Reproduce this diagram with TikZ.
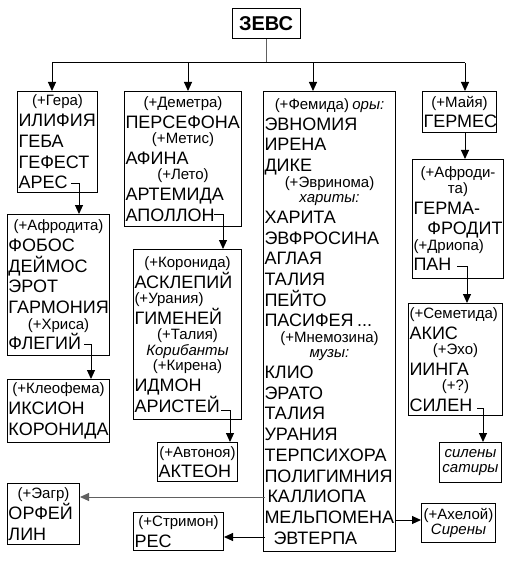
\documentclass[tikz,border=0pt]{standalone}
\usepackage{fontspec}
\setmainfont{Liberation Sans}
\usetikzlibrary{arrows.meta}
\setlength{\parindent}{0pt}
\tikzset{
  grp/.style 2 args = {draw, line width=1pt, anchor=north west, align=left,
                       text width=#1, minimum height=#2, inner xsep=1pt, inner ysep=0pt},
  ar/.style  = {-{Triangle[length=9pt,width=8pt]}, line width=1pt},
  arg/.style = {ar, gray!75!black},
  ln/.style  = {line width=1pt}
}
\newcommand{\bname}[1]{{\fontsize{18}{20.7}\selectfont\mbox{#1}\par}}
\newcommand{\bnamer}[1]{{\fontsize{18}{20.7}\selectfont\raggedleft\mbox{#1}\par}}
\newcommand{\bnote}[1]{{\fontsize{15}{15.5}\selectfont\centering\mbox{#1}\par}}
\newcommand{\bnotel}[1]{{\fontsize{15}{15.5}\selectfont\mbox{#1}\par}}

\begin{document}
\begin{tikzpicture}[x=1pt, y=-1pt]
\useasboundingbox (0,0) rectangle (511,564);
% ---- Zeus and the bus ----
\node[draw, line width=1pt, minimum width=68pt, minimum height=30pt, inner sep=0pt,
      font={\fontsize{20}{24}\selectfont\bfseries}] (zeus) at (266,24) {ЗЕВС};
\coordinate (busL) at (52,63);
\coordinate (busR) at (465,63);

% ---- first row ----
\node[grp={78pt}{101pt}] (hera) at (17,91)
  {\bnote{(+Гера)}\bname{ИЛИФИЯ}\bname{ГЕБА}\bname{ГЕФЕСТ}\bname{АРЕС}};
\node[grp={115pt}{135pt}] (demetra) at (124,91)
  {\bnote{(+Деметра)}\bname{ПЕРСЕФОНА}\bnote{(+Метис)}\bname{АФИНА}%
   \bnote{(+Лето)}\bname{АРТЕМИДА}\bname{АПОЛЛОН}};
\node[grp={130pt}{460pt}] (themis) at (263,91)
  {\bnote{(+Фемида) \textit{оры:}}\bname{ЭВНОМИЯ}\bname{ИРЕНА}\bname{ДИКЕ}%
   \bnote{(+Эвринома)}\bnote{\textit{хариты:}}\bname{ХАРИТА}\bname{ЭВФРОСИНА}%
   \bname{АГЛАЯ}\bname{ТАЛИЯ}\bname{ПЕЙТО}\bname{ПАСИФЕЯ ...}%
   \bnote{(+Мнемозина)}\bnote{\textit{музы:}}\bname{КЛИО}\bname{ЭРАТО}\bname{ТАЛИЯ}%
   \bname{УРАНИЯ}\bname{ТЕРПСИХОРА}\bname{ПОЛИГИМНИЯ}\bname{\hspace*{3pt}КАЛЛИОПА}%
   \bname{МЕЛЬПОМЕНА}\bname{\hspace*{9pt}ЭВТЕРПА}};
\node[grp={72pt}{41pt}] (maia) at (422,91)
  {\bnote{(+Майя)}\bname{ГЕРМЕС}};

% ---- descendants ----
\node[grp={89pt}{119pt}] (herma) at (412,159)
  {\bnote{(+Афроди-}\bnote{та)}\bname{ГЕРМА-}\bnamer{ФРОДИТ}\bnotel{(+Дриопа)}\bname{ПАН}};
\node[grp={92pt}{112pt}] (semetida) at (408,303)
  {\bnotel{(+Семетида)}\bname{АКИС}\bnote{(+Эхо)}\bname{ИИНГА}\bnote{(+?)}\bname{СИЛЕН}};
\node[grp={60pt}{40pt}] (sileni) at (439,442)
  {\bnote{\textit{силены}}\bnote{\textit{сатиры}}};
\node[grp={72pt}{39pt}] (acheloy) at (421,503)
  {\bnote{(+Ахелой)}\bnote{\textit{Сирены}}};
\node[grp={100pt}{141pt}] (aphro) at (7,214)
  {\bnote{(+Афродита)}\bname{ФОБОС}\bname{ДЕЙМОС}\bname{ЭРОТ}\bname{ГАРМОНИЯ}%
   \bnote{(+Хриса)}\bname{ФЛЕГИЙ}};
\node[grp={100pt}{63pt}] (kleo) at (7,379)
  {\bnote{(+Клеофема)}\bname{ИКСИОН}\bname{КОРОНИДА}};
\node[grp={106pt}{170pt}] (koronida) at (133,249)
  {\bnote{(+Коронида)}\bname{АСКЛЕПИЙ}\bnotel{(+Урания)}\bname{ГИМЕНЕЙ}%
   \bnote{(+Талия)}\bnote{\textit{Корибанты}}\bnote{(+Кирена)}\bname{ИДМОН}\bname{АРИСТЕЙ}};
\node[grp={78pt}{39pt}] (autonoe) at (157,442)
  {\bnote{(+Автоноя)}\bname{АКТЕОН}};
\node[grp={70pt}{61pt}] (eagr) at (7,483)
  {\bnote{(+Эагр)}\bname{ОРФЕЙ}\bname{ЛИН}};
\node[grp={88pt}{38pt}] (strimon) at (133,512)
  {\bnote{(+Стримон)}\bname{РЕС}};

% ---- line ends ----
\coordinate (ares) at (71,183);
\coordinate (apollon) at (214,214);
\coordinate (flegiy) at (84,344);
\coordinate (aristey) at (221,410);
\coordinate (pan) at (457,266);
\coordinate (silen) at (477,408);
\coordinate (kalliopa) at (265,497);
\coordinate (melpomena) at (395,520);
\coordinate (evterpa) at (265,537);

% ---- connectors ----
\draw[ln, gray!75!black] (zeus.south) -- (zeus.south |- busL);
\draw[ln] (busL) -- (busR);
\foreach \x/\b in {52/hera, 188/demetra, 313/themis, 465/maia}
  \draw[ar] (\x,63) -- (\b.north -| \x,0);
\draw[ar] (maia.south -| 465,0) -- (herma.north -| 465,0);
\draw[ar] (ares) -| (aphro.north -| 79,0);
\draw[ar] (apollon) -| (koronida.north -| 223,0);
\draw[ar] (flegiy) -| (kleo.north -| 91,0);
\draw[ar] (aristey) -| (autonoe.north -| 230,0);
\draw[ar] (pan) -| (semetida.north -| 467,0);
\draw[ar] (silen) -| (sileni.north -| 483,0);
\draw[arg] (kalliopa) -- (kalliopa -| eagr.east);
\draw[ar] (evterpa) -- (evterpa -| strimon.east);
\draw[ar] (melpomena) -- (melpomena -| acheloy.west);
\end{tikzpicture}
\end{document}
